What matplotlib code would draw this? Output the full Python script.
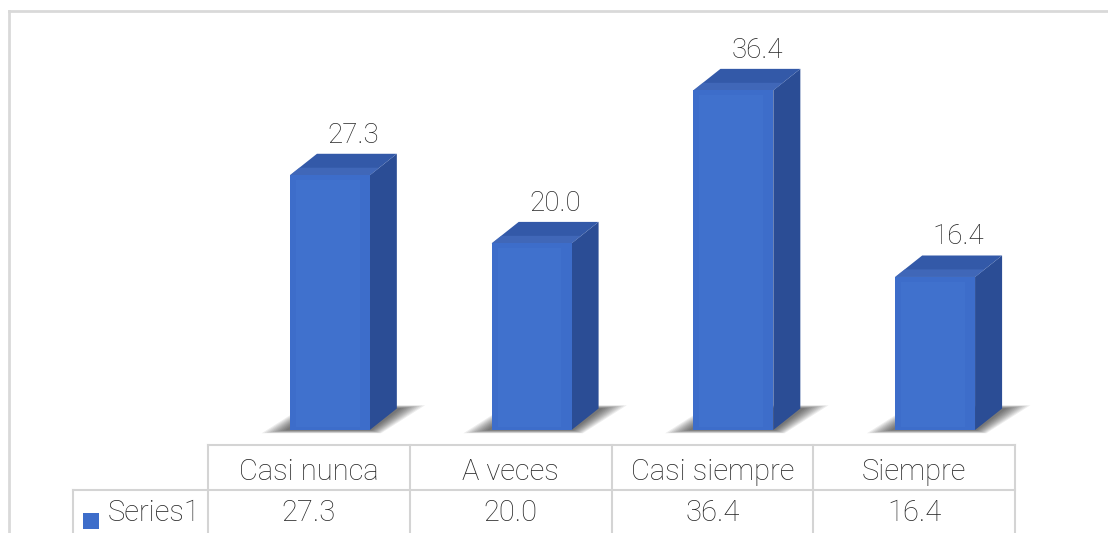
import matplotlib.pyplot as plt
from matplotlib.patches import Polygon, Rectangle
from matplotlib.lines import Line2D
import matplotlib.transforms as mtransforms

categories = ['Casi nunca', 'A veces', 'Casi siempre', 'Siempre']
values = [27.3, 20.0, 36.4, 16.4]
labels = ['27.3', '20.0', '36.4', '16.4']
series_name = 'Series1'

FONT = ['Roboto', 'DejaVu Sans']
WEIGHT = 'light'
TXT = '#262626'
GRID = '#d4d4d4'
FRONT = '#3d6dca'
TOP = '#3359a8'
SIDE = '#2b4d95'

W, H = 1108, 533
fig = plt.figure(figsize=(W / 100, H / 100), dpi=100)

# main plotting area: column region of the data table, baseline at y=430px
ax = fig.add_axes([208 / W, 103 / H, 807 / W, 419 / H])
ax.set_xlim(-0.5, 3.5)
ax.set_ylim(0, 44.9)
ax.axis('off')

off = -0.094   # front face left edge relative to column centre
bw = 0.396     # front face width
dx = 0.134     # depth shift to the right
dy = 2.3       # depth shift up (value units)

for i, v in enumerate(values):
    x0 = i + off
    x1 = x0 + bw
    # blurred shadow: stacked, widening copies of the footprint
    n = 10
    for k in range(n):
        p = 0.13 * (1 - k / n) + 0.01
        q = 0.35 * (1 - k / n)
        ax.add_patch(Polygon([(x0 - p, -q), (x1 + p * 0.4, -q),
                              (x1 + dx + p, dy + q), (x0 + dx - p * 0.4, dy + q)],
                             closed=True, color='black', alpha=0.07, lw=0,
                             clip_on=False, zorder=1))
    # side face
    ax.add_patch(Polygon([(x1, 0), (x1 + dx, dy), (x1 + dx, v + dy), (x1, v)],
                         closed=True, color=SIDE, lw=0, clip_on=False, zorder=2))
    # top face
    ax.add_patch(Polygon([(x0, v), (x1, v), (x1 + dx, v + dy), (x0 + dx, v + dy)],
                         closed=True, color=TOP, lw=0, clip_on=False, zorder=2))
    ax.add_patch(Polygon([(x0, v), (x1, v), (x1 + dx * 0.35, v + dy * 0.35),
                          (x0 + dx * 0.35, v + dy * 0.35)],
                         closed=True, color='#4a72c4', alpha=0.6, lw=0, clip_on=False, zorder=2))
    # front face
    ax.add_patch(Rectangle((x0, 0), bw, v, color=FRONT, lw=0, clip_on=False, zorder=3))
    ax.add_patch(Rectangle((x0 + 0.03, 0.3), bw - 0.08, v - 0.8, color='#4b7fd9',
                           alpha=0.25, lw=0, clip_on=False, zorder=3))
    ax.text(x0 + (bw + dx) / 2 + 0.05, v + dy + 1.2, labels[i], ha='center', va='baseline',
            fontsize=20, color=TXT, family=FONT, weight=WEIGHT)

# data table below the chart (x in data units, y in figure fraction)
tr = mtransforms.blended_transform_factory(ax.transData, fig.transFigure)

def fy(py):
    return 1 - py / H

def hline(xa, xb, py):
    fig.add_artist(Line2D([xa, xb], [fy(py), fy(py)], transform=tr, color=GRID, lw=1.5))

def vline(x, pya, pyb):
    fig.add_artist(Line2D([x, x], [fy(pya), fy(pyb)], transform=tr, color=GRID, lw=1.5))

left_cell = -0.5 - 135 / 202
hline(-0.5, 3.5, 445)
hline(left_cell, 3.5, 490)
for b in [-0.5, 0.5, 1.5, 2.5, 3.5]:
    vline(b, 445, H + 2)
vline(left_cell, 490, H + 2)

for i, c in enumerate(categories):
    fig.text(i, fy(472), c, transform=tr, ha='center', va='center',
             fontsize=21, color=TXT, family=FONT, weight=WEIGHT)
    fig.text(i, fy(513), labels[i], transform=tr, ha='center', va='center',
             fontsize=21, color=TXT, family=FONT, weight=WEIGHT)

# legend key + series name
fig.add_artist(Rectangle((83 / W, fy(529)), 16 / W, 16 / H, transform=fig.transFigure,
                         color=FRONT, lw=0))
fig.text(108 / W, fy(513), series_name, ha='left', va='center',
         fontsize=21, color=TXT, family=FONT, weight=WEIGHT)

# outer chart frame
fig.add_artist(Line2D([9 / W, 9 / W], [fy(11), 0], transform=fig.transFigure, color='#d9d9d9', lw=2))
fig.add_artist(Line2D([9 / W, 1], [fy(11), fy(11)], transform=fig.transFigure, color='#d9d9d9', lw=2))

fig.savefig('out.png', dpi=100)
